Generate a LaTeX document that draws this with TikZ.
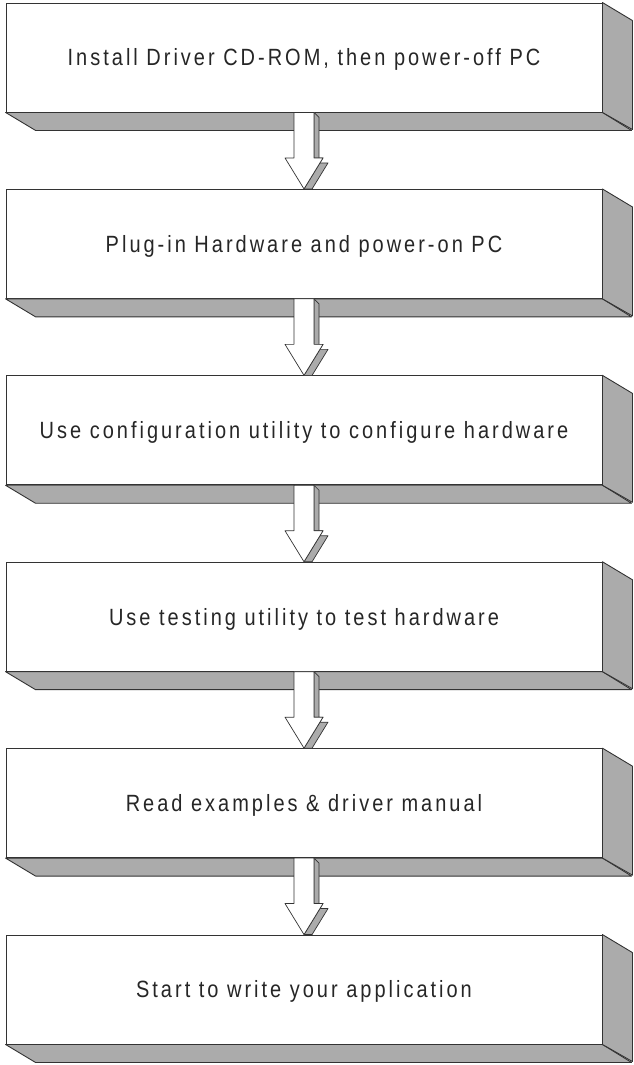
\documentclass[tikz,border=0pt]{standalone}
\usepackage{fontspec}
\setmainfont{Liberation Sans}[FakeStretch=0.85,LetterSpace=12.8]
\usetikzlibrary{calc}
\definecolor{shade}{HTML}{ABABAB}
\definecolor{linec}{HTML}{333333}
\tikzset{
  box/.style={draw=linec, fill=white, line width=0.9pt, minimum width=596pt,
    minimum height=109pt, inner sep=0pt, text height=16.8pt, text depth=0pt,
    font=\fontsize{23.5}{28}\selectfont, text=black!85},
  face/.style={draw=linec, fill=shade, line width=0.9pt, line join=round},
  arrowfront/.style={draw=linec, fill=white, line width=0.7pt, line join=round},
  arrowside/.style={draw=linec, fill=shade, line width=0.7pt, line join=round}
}
\newcommand\boxfaces[1]{%
  \filldraw[face] (#1.south west) -- ++(30,18) -- ++(596,0) -- (#1.south east) -- cycle;
  \filldraw[face] (#1.north east) -- ++(30,18) -- ++(0,109) -- (#1.south east) -- cycle;}
\newcommand\flowarrow[2]{%
  \filldraw[arrowside] ($(#1.south)+(10,0)$) -- ($(#1.south)+(15,5)$)
    -- ($(#2.north)+(15,-26)$) -- ($(#2.north)+(24,-26)$)
    -- ($(#2.north)+(8.06,0)$) -- (#2.north)
    -- ($(#2.north)+(19,-31)$) -- ($(#2.north)+(10,-31)$) -- cycle;
  \filldraw[arrowfront] ($(#1.south)+(-10,0)$) -- ($(#1.south)+(10,0)$)
    -- ($(#2.north)+(10,-31)$) -- ($(#2.north)+(19,-31)$) -- (#2.north)
    -- ($(#2.north)+(-19,-31)$) -- ($(#2.north)+(-10,-31)$) -- cycle;}
\begin{document}
\begin{tikzpicture}[x=1pt,y=-1pt]
\useasboundingbox (0,0) rectangle (633,1065);
\node[box] (b1) at (304,57.5) {Install Driver CD-ROM, then power-off PC};
\node[box] (b2) at (304,243.9) {Plug-in Hardware and power-on PC};
\node[box] (b3) at (304,430.3) {Use configuration utility to configure hardware};
\node[box] (b4) at (304,616.7) {Use testing utility to test hardware};
\node[box] (b5) at (304,803.1) {Read examples \& driver manual};
\node[box] (b6) at (304,989.5) {Start to write your application};
\boxfaces{b1}\boxfaces{b2}\boxfaces{b3}\boxfaces{b4}\boxfaces{b5}\boxfaces{b6}
\flowarrow{b1}{b2}
\flowarrow{b2}{b3}
\flowarrow{b3}{b4}
\flowarrow{b4}{b5}
\flowarrow{b5}{b6}
\end{tikzpicture}
\end{document}
